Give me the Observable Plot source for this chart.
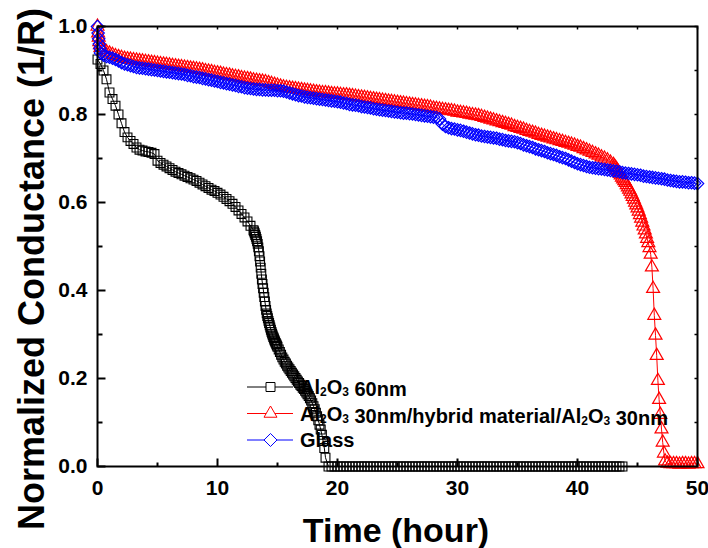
<!DOCTYPE html>
<html>
<head>
<meta charset="utf-8">
<script src="https://cdn.jsdelivr.net/npm/d3@7"></script>
<script src="https://cdn.jsdelivr.net/npm/@observablehq/plot@0.6"></script>
<style>
html, body { margin: 0; padding: 0; background: #fff; }
#chart { width: 708px; height: 548px; }
</style>
</head>
<body>
<div id="chart"></div>
<script>
// ---------------- data ----------------
const seriesLabels = ["Al2O3 60nm", "Al2O3 30nm/hybrid material/Al2O3 30nm", "Glass"];
const seriesColors = ["#000000", "#ff0000", "#0000ff"];

// Al2O3 60nm (black squares), sampled segments: start hour, step hour, values
const al60A_start = 0, al60A_step = 0.25;
const al60A = [0.925,0.915,0.900,0.880,0.850,0.835,0.820,0.800,0.780,0.760,0.748,0.740,0.733,0.725,0.720,0.718,
  0.716,0.715,0.713,0.710,0.695,0.690,0.686,0.682,0.678,0.674,0.670,0.667,0.664,0.661,0.658,0.655,
  0.652,0.649,0.645,0.641,0.637,0.633,0.629,0.626,0.622,0.618,0.613,0.608,0.603,0.597,0.590,0.582,
  0.574,0.566,0.557,0.547];
const al60B_start = 13, al60B_step = 0.05;
const al60B = [0.537,0.534,0.530,0.526,0.522,0.517,0.512,0.506,0.498,0.489,0.478,0.466,0.452,0.438,0.425,0.415,
  0.405,0.395,0.385,0.375,0.365,0.356,0.348,0.342,0.337,0.331,0.326,0.321,0.316,0.311,0.306,0.302,
  0.298,0.294,0.291,0.287,0.284,0.281,0.278,0.275,0.272];
const al60C_start = 15.1, al60C_step = 0.1;
const al60C = [0.266,0.260,0.254,0.248,0.243,0.238,0.234,0.229,0.225,0.221,0.217,0.213,0.209,0.205,0.201,0.197,
  0.193,0.190,0.186,0.183,0.179,0.176,0.172,0.168,0.164,0.160,0.155,0.150,0.144,0.137,0.130,0.122,
  0.114,0.105,0.095,0.084,0.072,0.058,0.042,0.020];
const al60D_start = 19.25, al60D_step = 0.25;
const al60D = [0,0,0,0,0,0,0,0,0,0, 0,0,0,0,0,0,0,0,0,0, 0,0,0,0,0,0,0,0,0,0, 0,0,0,0,0,0,0,0,0,0,
  0,0,0,0,0,0,0,0,0,0, 0,0,0,0,0,0,0,0,0,0, 0,0,0,0,0,0,0,0,0,0, 0,0,0,0,0,0,0,0,0,0,
  0,0,0,0,0,0,0,0,0,0, 0,0,0,0,0,0,0,0,0];

// Al2O3 30nm / hybrid / Al2O3 30nm (red triangles)
const hybA_start = 0, hybA_step = 0.05;
const hybA = [1.000,0.985,0.975,0.965,0.958];
const hybB_start = 0.25, hybB_step = 0.25;
const hybB = [0.952,0.947,0.942,0.939, 0.936,0.933,0.931,0.929, 0.927,0.926,0.925,0.924, 0.923,0.922,0.921,0.920,
  0.919,0.918,0.917,0.916, 0.915,0.914,0.913,0.912, 0.911,0.910,0.909,0.908, 0.907,0.906,0.905,0.904,
  0.903,0.902,0.901,0.899, 0.898,0.897,0.895,0.894, 0.893,0.891,0.890,0.889, 0.887,0.886,0.885,0.883,
  0.882,0.881,0.880,0.878, 0.877,0.876,0.875,0.874, 0.872,0.870,0.868,0.866, 0.864,0.862,0.861,0.860,
  0.859,0.858,0.857,0.856, 0.855,0.854,0.853,0.852, 0.851,0.850,0.849,0.849, 0.848,0.847,0.846,0.846,
  0.845,0.844,0.844,0.843, 0.842,0.841,0.840,0.839, 0.838,0.837,0.836,0.835, 0.834,0.833,0.832,0.831,
  0.830,0.829,0.828,0.827, 0.826,0.825,0.824,0.823, 0.822,0.821,0.820,0.819, 0.818,0.817,0.816,0.814,
  0.813,0.812,0.811,0.810, 0.809,0.808,0.807,0.805, 0.804,0.803,0.802,0.800, 0.799,0.798,0.797,0.795,
  0.793,0.791,0.789,0.787, 0.785,0.783,0.781,0.779, 0.777,0.775,0.772,0.770, 0.768,0.766,0.763,0.761,
  0.759,0.757,0.754,0.752, 0.750,0.748,0.746,0.744, 0.742,0.740,0.738,0.736, 0.734,0.732,0.730,0.727,
  0.725,0.722,0.719,0.716, 0.713,0.710,0.707,0.703, 0.700,0.696,0.691];
const hybC_start = 43, hybC_step = 0.1;
const hybC = [0.686,0.682,0.678,0.674,0.670,0.666,0.662,0.657,0.653,0.649,0.645,0.640,0.635,0.630,0.625,0.619,
  0.613,0.607,0.600,0.594,0.587,0.580,0.572,0.564,0.555,0.546,0.537,0.528,0.518,0.508,0.497,0.482,
  0.453,0.404,0.343,0.298,0.252,0.195,0.152,0.118,0.085,0.055,0.030,0.012];
const hybD_start = 47.5, hybD_step = 0.25;
const hybD = [0.007,0.006,0.006,0.006,0.005,0.006,0.006,0.005,0.006,0.006,0.006];

// Glass (blue diamonds)
const glassA_start = 0, glassA_step = 0.05;
const glassA = [1.000,0.985,0.972,0.960,0.950];
const glassB_start = 0.25, glassB_step = 0.25;
const glassB = [0.940,0.935,0.932,0.930, 0.928,0.925,0.922,0.918, 0.915,0.913,0.911,0.909, 0.907,0.906,0.905,0.904,
  0.903,0.902,0.901,0.900, 0.899,0.898,0.897,0.896, 0.895,0.894,0.893,0.892, 0.891,0.889,0.888,0.886,
  0.885,0.884,0.882,0.881, 0.879,0.878,0.876,0.875, 0.873,0.872,0.870,0.869, 0.867,0.866,0.864,0.863,
  0.861,0.860,0.859,0.858, 0.857,0.857,0.856,0.856, 0.855,0.855,0.855,0.854, 0.854,0.853,0.851,0.849,
  0.847,0.845,0.843,0.842, 0.840,0.839,0.838,0.837, 0.836,0.835,0.834,0.833, 0.832,0.831,0.830,0.829,
  0.828,0.826,0.825,0.823, 0.822,0.821,0.820,0.818, 0.817,0.816,0.815,0.813, 0.812,0.811,0.810,0.809,
  0.808,0.807,0.806,0.805, 0.804,0.803,0.803,0.802, 0.801,0.800,0.799,0.798, 0.797,0.796,0.795,0.794,
  0.793,0.790,0.778,0.773, 0.770,0.768,0.767,0.765, 0.764,0.762,0.760,0.758, 0.756,0.754,0.753,0.751,
  0.750,0.749,0.748,0.747, 0.746,0.744,0.743,0.741, 0.740,0.739,0.738,0.736, 0.734,0.731,0.729,0.727,
  0.725,0.722,0.720,0.718, 0.716,0.713,0.711,0.709, 0.707,0.704,0.702,0.700, 0.697,0.694,0.691,0.688,
  0.686,0.684,0.682,0.680, 0.679,0.678,0.677,0.676, 0.675,0.674,0.673,0.672, 0.671,0.670,0.668,0.667,
  0.666,0.665,0.664,0.663, 0.662,0.660,0.659,0.658, 0.657,0.656,0.655,0.654, 0.653,0.651,0.650,0.649,
  0.648,0.647,0.647,0.646, 0.645,0.645,0.644,0.643];

// axes
const xMajorTicks = [0, 10, 20, 30, 40, 50];
const xMinorTicks = [5, 15, 25, 35, 45];
const yMajorTicks = [0, 0.2, 0.4, 0.6, 0.8, 1.0];
const yMinorTicks = [0.1, 0.3, 0.5, 0.7, 0.9];
const yTickLabels = ["0.0", "0.2", "0.4", "0.6", "0.8", "1.0"];
const xTickLabels = ["0", "10", "20", "30", "40", "50"];
const xTitle = "Time (hour)";
const yTitle = "Normalized Conductance (1/R)";

// ---------------- build tables ----------------
function seg(start, step, values) {
  return values.map((v, i) => ({t: Math.round((start + i * step) * 1000) / 1000, v}));
}
const al60 = [...seg(al60A_start, al60A_step, al60A), ...seg(al60B_start, al60B_step, al60B),
              ...seg(al60C_start, al60C_step, al60C), ...seg(al60D_start, al60D_step, al60D)];
const hyb = [...seg(hybA_start, hybA_step, hybA), ...seg(hybB_start, hybB_step, hybB),
             ...seg(hybC_start, hybC_step, hybC), ...seg(hybD_start, hybD_step, hybD)];
const glass = [...seg(glassA_start, glassA_step, glassA), ...seg(glassB_start, glassB_step, glassB)];

const FONT = "'Liberation Sans', Arial, Helvetica, sans-serif";
const tickShape = (dx, dy) => ({draw(ctx) { ctx.moveTo(0, 0); ctx.lineTo(dx, dy); }});

const chart = Plot.plot({
  width: 708,
  height: 548,
  marginLeft: 97,
  marginRight: 11,
  marginTop: 26,
  marginBottom: 82,
  x: {domain: [0, 50], axis: null},
  y: {domain: [0, 1], axis: null},
  style: {fontFamily: FONT, background: "#fff", color: "#000"},
  marks: [
    Plot.line(al60, {x: "t", y: "v", stroke: seriesColors[0], strokeWidth: 1}),
    Plot.dot(al60, {x: "t", y: "v", symbol: "square", r: 5, stroke: seriesColors[0], fill: "none", strokeWidth: 1.1}),
    Plot.line(hyb, {x: "t", y: "v", stroke: seriesColors[1], strokeWidth: 1}),
    Plot.dot(hyb, {x: "t", y: "v", symbol: "triangle", r: 4.8, stroke: seriesColors[1], fill: "none", strokeWidth: 1.2}),
    Plot.line(glass, {x: "t", y: "v", stroke: seriesColors[2], strokeWidth: 1}),
    Plot.dot(glass, {x: "t", y: "v", symbol: "diamond2", r: 5.6, stroke: seriesColors[2], fill: "none", strokeWidth: 1.2}),
    Plot.frame({stroke: "#000", strokeWidth: 2}),
    // inward ticks
    Plot.dot(xMajorTicks, {x: d => d, y: 0, symbol: tickShape(0, -8), stroke: "#000", strokeWidth: 2, fill: "none"}),
    Plot.dot(xMinorTicks, {x: d => d, y: 0, symbol: tickShape(0, -4), stroke: "#000", strokeWidth: 2, fill: "none"}),
    Plot.dot([...xMajorTicks, ...xMinorTicks], {x: d => d, y: 1, symbol: tickShape(0, 3), stroke: "#000", strokeWidth: 1.5, fill: "none"}),
    Plot.dot(yMajorTicks, {x: 0, y: d => d, symbol: tickShape(8, 0), stroke: "#000", strokeWidth: 2, fill: "none"}),
    Plot.dot(yMinorTicks, {x: 0, y: d => d, symbol: tickShape(5, 0), stroke: "#000", strokeWidth: 2, fill: "none"}),
    Plot.dot([...yMajorTicks, ...yMinorTicks], {x: 50, y: d => d, symbol: tickShape(-3, 0), stroke: "#000", strokeWidth: 1.5, fill: "none"}),
    // tick labels
    Plot.text(xMajorTicks, {x: d => d, y: 0, text: (d, i) => xTickLabels[i], lineAnchor: "top", dy: 14,
      fontSize: 21, fontWeight: "bold", fill: "#000"}),
    Plot.text(yMajorTicks, {x: 0, y: d => d, text: (d, i) => yTickLabels[i], textAnchor: "end", dx: -10,
      fontSize: 21, fontWeight: "bold", fill: "#000"})
  ]
});

document.getElementById("chart").appendChild(chart);

// ---------------- titles and legend ----------------
const svg = d3.select(chart);
svg.append("text")
  .attr("transform", "translate(396,542)")
  .attr("text-anchor", "middle")
  .attr("font-family", FONT).attr("font-size", 34).attr("font-weight", "bold").attr("fill", "#000")
  .text(xTitle);
svg.append("text")
  .attr("transform", "translate(44,269) rotate(-90)")
  .attr("text-anchor", "middle")
  .attr("font-family", FONT).attr("font-size", 36).attr("font-weight", "bold").attr("fill", "#000")
  .text(yTitle);

const legendSymbols = [d3.symbol(d3.symbolSquare, 81), d3.symbol(d3.symbolTriangle, 73), d3.symbol(d3.symbolDiamond2, 108)];
const legendRows = [387, 413.5, 440];
const lg = svg.append("g").attr("font-family", FONT).attr("font-weight", "bold").attr("font-size", 20)
  .attr("text-anchor", "start");
seriesLabels.forEach((label, i) => {
  const y = legendRows[i];
  lg.append("line").attr("x1", 247).attr("x2", 293).attr("y1", y).attr("y2", y)
    .attr("stroke", seriesColors[i]).attr("stroke-width", 1);
  lg.append("path").attr("d", legendSymbols[i]()).attr("transform", `translate(270.5,${y})`)
    .attr("fill", "#fff").attr("stroke", seriesColors[i]).attr("stroke-width", 1);
  const t = lg.append("text").attr("x", 300).attr("y", y + 7).attr("fill", "#000").attr("text-anchor", "start");
  label.split(/(Al2O3)/).forEach(part => {
    if (!part) return;
    if (part === "Al2O3") {
      t.append("tspan").text("Al");
      t.append("tspan").attr("font-size", 12).attr("dy", 2).text("2");
      t.append("tspan").attr("dy", -2).text("O");
      t.append("tspan").attr("font-size", 12).attr("dy", 2).text("3");
      t.append("tspan").attr("dy", -2).text("");
    } else {
      t.append("tspan").text(part);
    }
  });
});
</script>
</body>
</html>
